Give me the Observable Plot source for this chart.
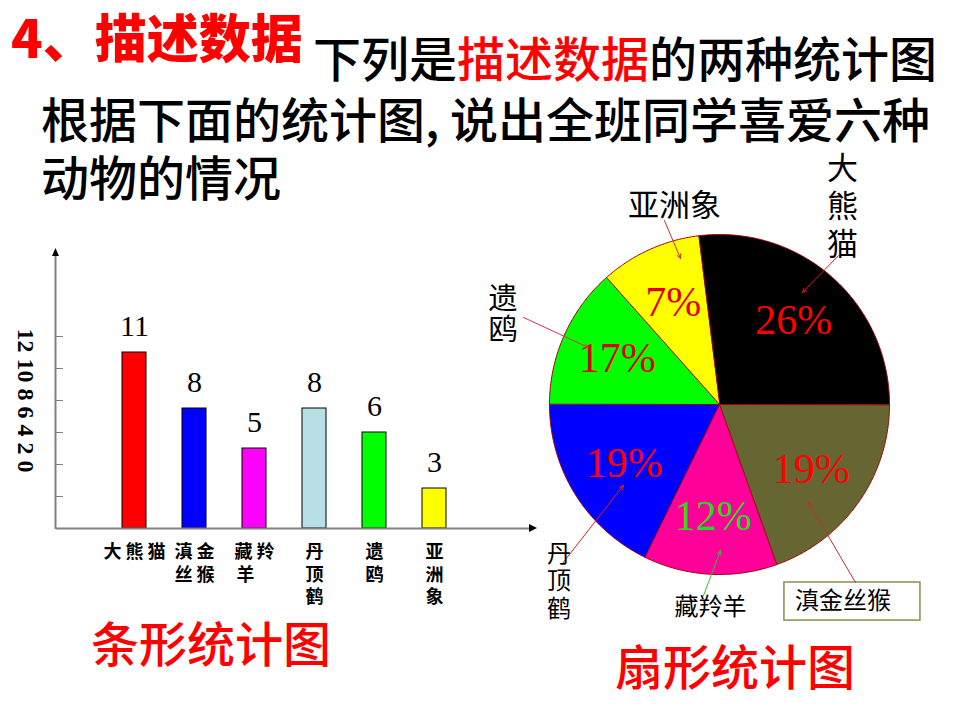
<!DOCTYPE html>
<html>
<head>
<meta charset="utf-8">
<script src="https://cdn.jsdelivr.net/npm/d3@7"></script>
<script src="https://cdn.jsdelivr.net/npm/@observablehq/plot@0.6"></script>
<style>
  body { margin: 0; background: #fff; }
  #page { position: relative; width: 960px; height: 720px; overflow: hidden; background: #fff;
          font-family: "Noto Sans CJK SC", sans-serif; }
  .t { position: absolute; white-space: nowrap; line-height: 1; }
  #page svg { position: absolute; left: 0; top: 0; }
</style>
</head>
<body>
<div id="page">
  <div class="t" style="left:11px;top:10px;font-size:52px;font-weight:900;color:#ff0000;">4、描述数据</div>
  <div class="t" style="left:313px;top:32px;font-size:48px;font-weight:500;color:#000;">下列是<span style="color:#ff0000">描述数据</span>的两种统计图</div>
  <div class="t" style="left:41px;top:93px;font-size:48px;font-weight:500;color:#000;">根据下面的统计图, 说出全班同学喜爱六种</div>
  <div class="t" style="left:41px;top:151px;font-size:48px;font-weight:500;color:#000;">动物的情况</div>
  <div class="t" style="left:91px;top:617px;font-size:48px;font-weight:500;color:#ff0000;">条形统计图</div>
  <div class="t" style="left:615px;top:640px;font-size:48px;font-weight:500;color:#ff0000;">扇形统计图</div>
</div>
<script>
// ---------- data ----------
const animals = ["大熊猫", "滇金丝猴", "藏羚羊", "丹顶鹤", "遗鸥", "亚洲象"];
const barValueLabels = [11, 8, 5, 8, 6, 3];            // numbers printed above the bars
const barHeights = [11, 7.5, 5, 7.5, 6, 2.5];          // bar heights as drawn in the picture
const barCategoryLabels = ["大 熊 猫", "滇 金\n丝 猴", "藏 羚\n羊\u3000", "丹\n顶\n鹤", "遗\n鸥", "亚\n洲\n象"];
const yTicks = [2, 4, 6, 8, 10, 12];
const yTickLabel = "12 10 8 6 4 2 0";

const pieShares = [27.0, 19.5, 12.7, 17.8, 13.4, 9.6];  // angular shares as drawn
const piePercentLabels = ["26%", "19%", "12%", "19%", "17%", "7%"];
const pieNameLabels = ["大\n熊\n猫", "滇金丝猴", "藏羚羊", "丹\n顶\n鹤", "遗\n鸥", "亚洲象"];

// ---------- styles ----------
const barColors = ["#ff0000", "#0000ff", "#ff00ff", "#b9dfe6", "#00ff00", "#ffff00"];
const pieColors = ["#000000", "#666633", "#ff0099", "#0000ff", "#00ff00", "#ffff00"];
const piePercentColors = ["#ff0000", "#ff0000", "#22dd22", "#ff0000", "#e00000", "#e00000"];

// ---------- layout (annotation placement, in unit-radius pie coordinates) ----------
const pieStartDeg = -7.1;
const pieNameLayout = [
  {x: 0.7235, y: 1.176, size: 31, lh: 1.22},
  {x: 0.726, y: -1.159, size: 24, lh: 1},
  {x: -0.053, y: -1.191, size: 24, lh: 1},
  {x: -0.944, y: -1.035, size: 24, lh: 1.15},
  {x: -1.2735, y: 0.529, size: 29, lh: 1.08},
  {x: -0.2647, y: 1.165, size: 31, lh: 1}
];
const pieArrowLayout = [
  {x1: 0.700, y1: 0.876, x2: 0.488, y2: 0.659, color: "#e01818"},
  {x1: 0.800, y1: -1.047, x2: 0.524, y2: -0.576, color: "#c03030"},
  {x1: -0.094, y1: -1.124, x2: 0.006, y2: -0.859, color: "#30c030"},
  {x1: -0.924, y1: -0.935, x2: -0.565, y2: -0.476, color: "#e02020"},
  {x1: -1.153, y1: 0.512, x2: -0.771, y2: 0.335, color: "#e03050"},
  {x1: -0.324, y1: 1.082, x2: -0.229, y2: 0.859, color: "#c03030"}
];
const pieBox = {x1: 0.382, x2: 1.182, y1: -1.047, y2: -1.271};

const serif = "'Liberation Serif', 'Times New Roman', 'Noto Sans CJK SC', serif";
const sansCJK = "'Noto Sans CJK SC', sans-serif";

// ---------- bar chart ----------
const bars = animals.map((name, i) => ({
  name, h: barHeights[i], v: String(barValueLabels[i]), label: barCategoryLabels[i], color: barColors[i]
}));
const yMax = 17.5;

function axisArrows(index, scales, values, dimensions) {
  const {marginLeft, marginRight, width} = dimensions;
  const y0 = scales.y(0), yT = scales.y(yMax), xE = width - marginRight;
  const g = d3.create("svg:g");
  g.append("line").attr("x1", marginLeft - 0.5).attr("x2", marginLeft - 0.5)
    .attr("y1", y0 + 1).attr("y2", yT + 6).attr("stroke", "#808080").attr("stroke-width", 2);
  g.append("path").attr("d", `M${marginLeft - 4},${yT + 8}L${marginLeft - 0.5},${yT}L${marginLeft + 3},${yT + 8}Z`).attr("fill", "#000");
  g.append("path").attr("d", `M${xE - 1},${y0 - 4}L${xE + 7},${y0}L${xE - 1},${y0 + 4}Z`).attr("fill", "#000");
  return g.node();
}

const barChart = Plot.plot({
  width: 960, height: 720,
  marginLeft: 56, marginRight: 430, marginTop: 248, marginBottom: 192,
  style: {background: "transparent", overflow: "visible", fontFamily: sansCJK},
  x: {type: "band", domain: animals, range: [101.6, 466.4], paddingInner: 0.605, paddingOuter: 0.3025, axis: null},
  y: {domain: [0, yMax]},
  color: {type: "identity"},
  marks: [
    Plot.barY(bars, {x: "name", y: "h", fill: "color", stroke: "#000", strokeWidth: 1}),
    Plot.ruleY([0], {stroke: "#808080", strokeWidth: 2}),
    Plot.axisY({ticks: yTicks, tickSize: 7, dx: 7, tickFormat: () => "", stroke: "#808080", label: null}),
    axisArrows,
    Plot.text(bars, {x: "name", y: "h", text: "v", dy: -17, lineAnchor: "bottom",
      fontSize: 30, fontFamily: serif, fill: "#000"}),
    Plot.text(bars, {x: "name", y: 0, text: "label", dy: 14, lineAnchor: "top",
      fontSize: 18, fontWeight: "bold", lineHeight: 1.25, fontFamily: sansCJK, fill: "#000"}),
    Plot.text([yTickLabel], {frameAnchor: "left", text: d => d, rotate: 90, dx: -31, dy: 12,
      textAnchor: "middle", lineAnchor: "middle",
      fontSize: 24, fontWeight: "bold", fontFamily: serif, fill: "#000"})
  ]
});

// ---------- pie chart ----------
const pieData = animals.map((name, i) => ({name, share: pieShares[i], pct: piePercentLabels[i], i}));
const a0 = pieStartDeg * Math.PI / 180;
const arcs = d3.pie().sort(null).value(d => d.share).startAngle(a0).endAngle(a0 + 2 * Math.PI)(pieData);
const slicePts = arcs.flatMap(a => {
  const i = a.data.i, name = a.data.name, color = pieColors[i];
  const n = Math.max(2, Math.ceil((a.endAngle - a.startAngle) / (Math.PI / 360)));
  const pts = [{name, color, x: 0, y: 0}];
  for (let k = 0; k <= n; k++) {
    const t = a.startAngle + (a.endAngle - a.startAngle) * k / n;
    pts.push({name, color, x: Math.sin(t), y: Math.cos(t)});
  }
  return pts;
});
const mid = a => (a.startAngle + a.endAngle) / 2;
const labelR = 0.66;

const nameMarks = pieNameLabels.map((txt, i) => Plot.text([pieNameLayout[i]], {
  x: "x", y: "y", text: () => txt, fontSize: pieNameLayout[i].size, lineHeight: pieNameLayout[i].lh,
  fontFamily: serif, fill: "#000"
}));

const pieChart = Plot.plot({
  width: 960, height: 720,
  marginLeft: 0, marginRight: 0, marginTop: 0, marginBottom: 0,
  style: {background: "transparent", overflow: "visible", fontFamily: sansCJK},
  x: {domain: [-1, 1], range: [549, 889], axis: null},
  y: {domain: [-1, 1], range: [574, 234], axis: null},
  color: {type: "identity"},
  marks: [
    Plot.line(slicePts, {x: "x", y: "y", z: "name", fill: "color", stroke: "#a00000", strokeWidth: 1, curve: "linear-closed"}),
    Plot.text(arcs, {x: a => labelR * Math.sin(mid(a)), y: a => labelR * Math.cos(mid(a)),
      text: a => a.data.pct, fill: a => piePercentColors[a.data.i], fontSize: 42, fontFamily: serif}),
    Plot.rect([pieBox], {x1: "x1", x2: "x2", y1: "y1", y2: "y2", fill: "#fff", stroke: "#8c8c50", strokeWidth: 1.5}),
    Plot.arrow(pieArrowLayout, {x1: "x1", y1: "y1", x2: "x2", y2: "y2", stroke: "color", strokeWidth: 1,
      headLength: 7, headAngle: 50}),
    ...nameMarks
  ]
});

const page = document.getElementById("page");
page.appendChild(barChart);
page.appendChild(pieChart);
</script>
</body>
</html>
